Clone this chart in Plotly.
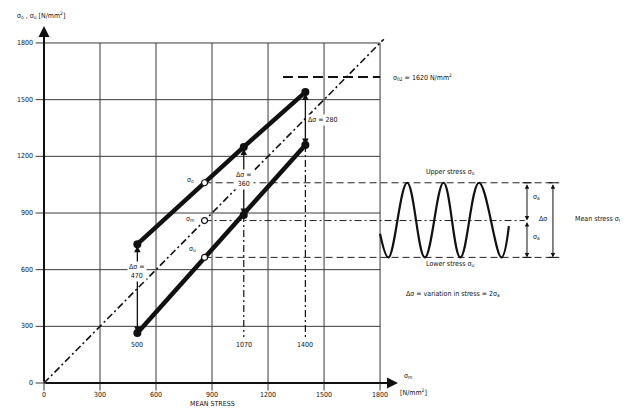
import plotly.graph_objects as go

# ---------------- data ----------------
x_ticks = [0, 300, 600, 900, 1200, 1500, 1800]
x_tick_labels = ["0", "300", "600", "900", "1200", "1500", "1800"]
y_ticks = [0, 300, 600, 900, 1200, 1500, 1800]
y_tick_labels = ["0", "300", "600", "900", "1200", "1500", "1800"]

mean_stress = [500, 1070, 1400]
upper_stress = [735, 1250, 1540]
lower_stress = [265, 890, 1260]
delta_sigma = [470, 360, 280]
sigma_02 = 1620

example_mean = 860
example_upper = 1060
example_lower = 665

wave_x = [1800, 1845, 1945, 2040, 2140, 2230, 2330, 2450, 2490]
wave_y = [790, 665, 1060, 665, 1060, 665, 1060, 665, 830]

# ---------------- figure ----------------
# the page body has an 8px margin, so the figure is 8px smaller than the window
X_RANGE = [-192.8, 3128]
Y_RANGE = [-137.6, 1985.2]
FONT = "DejaVu Sans Condensed, Liberation Sans Narrow, Liberation Sans, Arial"
FS = 7
INK = "#111111"

fig = go.Figure()

# grid
gx, gy = [], []
for t in x_ticks:
    gx += [t, t, None]
    gy += [-40, 1800, None]
for t in y_ticks:
    gx += [-45, 1800, None]
    gy += [t, t, None]
fig.add_trace(go.Scatter(x=gx, y=gy, mode="lines", line=dict(color="#3a3a3a", width=1),
                         hoverinfo="skip"))

# diagonal (mean stress line)
fig.add_trace(go.Scatter(x=[0, 1820], y=[0, 1820], mode="lines",
                         line=dict(color=INK, width=1.6, dash="7px,3px,2px,3px")))

# sigma 0.2 line
fig.add_trace(go.Scatter(x=[1280, 1800], y=[sigma_02, sigma_02], mode="lines",
                         line=dict(color=INK, width=2, dash="10px,5px")))

# example horizontal lines
fig.add_trace(go.Scatter(x=[example_mean, 2760, None, example_mean, 2760],
                         y=[example_upper, example_upper, None, example_lower, example_lower],
                         mode="lines", line=dict(color="#222", width=1, dash="7px,4px")))
fig.add_trace(go.Scatter(x=[example_mean, 2575], y=[example_mean, example_mean], mode="lines",
                         line=dict(color="#222", width=1, dash="7px,3px,2px,3px")))

# vertical markers down to the mean-stress labels
fig.add_trace(go.Scatter(x=[mean_stress[0], mean_stress[0]], y=[lower_stress[0], 243],
                         mode="lines", line=dict(color=INK, width=1.2)))
fx, fy = [], []
for m, lo in zip(mean_stress[1:], lower_stress[1:]):
    fx += [m, m, None]
    fy += [lo, 243, None]
fig.add_trace(go.Scatter(x=fx, y=fy, mode="lines",
                         line=dict(color=INK, width=1.2, dash="7px,3px,2px,3px")))

# upper and lower limit lines
fig.add_trace(go.Scatter(x=mean_stress, y=upper_stress, mode="lines+markers",
                         line=dict(color=INK, width=4.5),
                         marker=dict(size=8, color=INK)))
fig.add_trace(go.Scatter(x=mean_stress, y=lower_stress, mode="lines+markers",
                         line=dict(color=INK, width=4.5),
                         marker=dict(size=8, color=INK)))

# example open circles
fig.add_trace(go.Scatter(x=[example_mean] * 3, y=[example_upper, example_mean, example_lower],
                         mode="markers",
                         marker=dict(size=6, color="white", line=dict(color=INK, width=1.2))))

# stress cycle wave
fig.add_trace(go.Scatter(x=wave_x, y=wave_y, mode="lines", line_shape="spline",
                         line=dict(color=INK, width=2.2, smoothing=1.1)))

# right-hand brackets end bars
bx, by = [], []
for xv in [2587, 2726]:
    for yv in [example_upper, example_lower]:
        bx += [xv - 25, xv + 25, None]
        by += [yv, yv, None]
fig.add_trace(go.Scatter(x=bx, y=by, mode="lines", line=dict(color=INK, width=1)))

ann = []

def text(x, y, s, size=FS, xanchor="center", yanchor="middle", bg=None, **kw):
    d = dict(x=x, y=y, xref="x", yref="y", text=s, showarrow=False,
             font=dict(family=FONT, size=size, color=INK),
             xanchor=xanchor, yanchor=yanchor)
    if bg:
        d["bgcolor"] = bg
    d.update(kw)
    ann.append(d)

def arrow(x, y, ax, ay, both=False, width=1.3, head=2, size=1.0):
    ann.append(dict(x=x, y=y, ax=ax, ay=ay, xref="x", yref="y", axref="x", ayref="y",
                    text="", showarrow=True, arrowhead=head, arrowsize=size,
                    arrowwidth=width, arrowcolor=INK,
                    arrowside="end+start" if both else "end"))

# axes with arrows
arrow(1896, 0, 0, 0, width=2, head=2, size=1.1)
arrow(0, 1890, 0, 0, width=2, head=2, size=1.1)

# tick labels
for t, lab in zip(x_ticks, x_tick_labels):
    text(t, -64, lab)
for t, lab in zip(y_ticks, y_tick_labels):
    text(-50, t, lab, xanchor="right")

# axis titles
text(-155, 1948, "σ<sub>o</sub> , σ<sub>u</sub> [N/mm<sup>2</sup>]", xanchor="left")
text(1918, 37, "σ<sub>m</sub>", xanchor="left")
text(1896, -50, "[N/mm<sup>2</sup>]", xanchor="left")
text(900, -110, "MEAN STRESS")

# mean-stress labels
for m in mean_stress:
    text(m, 201, str(m))

# delta sigma arrows and labels
for m, up, lo in zip(mean_stress, upper_stress, lower_stress):
    arrow(m, lo, m, up, both=True, width=1.3, head=2)
text(mean_stress[0], 588, f"Δσ =<br>{delta_sigma[0]}", bg="white")
text(mean_stress[1], 1075, f"Δσ =<br>{delta_sigma[1]}", bg="white")
text(1405, 1392, f"Δσ = {delta_sigma[2]}", xanchor="left", bg="white")

# sigma 0.2
text(1860, sigma_02, f"σ<sub>02</sub> = {sigma_02} N/mm<sup>2</sup>", xanchor="left")

# example labels
text(815, example_upper + 15, "σ<sub>o</sub>", xanchor="right")
text(815, example_mean + 10, "σ<sub>m</sub>", xanchor="right")
text(825, example_lower + 45, "σ<sub>u</sub>", xanchor="right")

# wave explanation
arrow(2587, example_mean, 2587, example_upper, both=True, width=1, head=2, size=0.9)
arrow(2587, example_lower, 2587, example_mean, both=True, width=1, head=2, size=0.9)
arrow(2726, example_lower, 2726, example_upper, both=True, width=1, head=2, size=0.9)
text(2610, 985, "σ<sub>a</sub>", xanchor="left")
text(2610, 775, "σ<sub>a</sub>", xanchor="left")
text(2705, 868, "Δσ", xanchor="right")
text(2835, 868, "Mean stress σ<sub>m</sub>", xanchor="left")
text(2175, 1117, "Upper stress σ<sub>o</sub>")
text(2175, 630, "Lower stress σ<sub>u</sub>")
text(2190, 471, "Δσ = variation in stress = 2σ<sub>a</sub>")

fig.update_layout(
    width=620, height=401, margin=dict(l=0, r=0, t=0, b=0),
    font=dict(family=FONT, size=FS, color=INK),
    paper_bgcolor="white", plot_bgcolor="white", showlegend=False,
    xaxis=dict(range=X_RANGE, visible=False, fixedrange=True),
    yaxis=dict(range=Y_RANGE, visible=False, fixedrange=True),
    annotations=ann,
)
fig.write_html("out.html")
